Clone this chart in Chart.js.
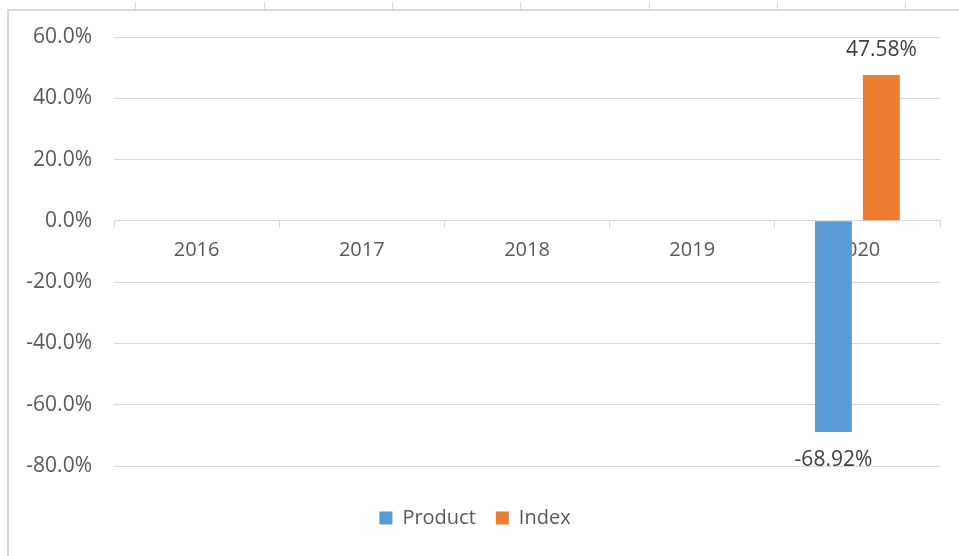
<!DOCTYPE html>
<html>
<head>
<meta charset="utf-8">
<script src="https://cdn.jsdelivr.net/npm/chart.js@4.4.0/dist/chart.umd.min.js"></script>
<style>
  html, body { margin: 0; padding: 0; background: #fff; }
  #wrap { position: relative; width: 959px; height: 556px; overflow: hidden; }
  /* frame of the excel chart object */
  #frame { position: absolute; left: 7px; top: 9px; right: -2px; bottom: -2px;
           border-left: 2px solid #d9d9d9; border-top: 2px solid #d9d9d9; }
  /* tick marks left over from the chart above */
  #topticks { position: absolute; left: 8px; top: 2px; right: 0; height: 7px;
              background: repeating-linear-gradient(to right, transparent 0, transparent 127.3px, #d9d9d9 127.3px, #d9d9d9 128.33px); }
  #box { position: absolute; left: 0; top: 0; width: 959px; height: 556px; }
</style>
</head>
<body>
<div id="wrap">
  <div id="topticks"></div>
  <div id="frame"></div>
  <div id="box"><canvas id="chart"></canvas></div>
</div>
<script>
const years = ["2016", "2017", "2018", "2019", "2020"];
const product = [null, null, null, null, -68.92];
const index = [null, null, null, null, 47.58];
const yTicks = [-80, -60, -40, -20, 0, 20, 40, 60];

const FONT = "'Open Sans', sans-serif";

// value labels above / below the bars
const valueLabels = {
  id: 'valueLabels',
  afterDatasetsDraw(chart) {
    const ctx = chart.ctx;
    chart.data.datasets.forEach((ds, i) => {
      chart.getDatasetMeta(i).data.forEach((bar, j) => {
        const v = ds.data[j];
        if (v == null) return;
        ctx.save();
        ctx.fillStyle = '#404040';
        ctx.font = "21px " + FONT;
        ctx.textAlign = 'center';
        if (v >= 0) {
          ctx.textBaseline = 'bottom';
          ctx.fillText(v.toFixed(2) + '%', bar.x, bar.y - 15);
        } else {
          ctx.textBaseline = 'top';
          ctx.fillText(v.toFixed(2) + '%', bar.x, bar.y + 17);
        }
        ctx.restore();
      });
    });
  }
};

new Chart(document.getElementById("chart"), {
  type: 'bar',
  data: {
    labels: years,
    datasets: [
      { label: 'Product', data: product, backgroundColor: '#5b9bd5',
        categoryPercentage: 0.58, barPercentage: 0.77 },
      { label: 'Index', data: index, backgroundColor: '#ed7d31',
        categoryPercentage: 0.58, barPercentage: 0.77 }
    ]
  },
  options: {
    responsive: true,
    maintainAspectRatio: false,
    animation: false,
    layout: { padding: { top: 37, right: 19, left: 10, bottom: 18 } },
    plugins: {
      tooltip: { enabled: false },
      legend: {
        position: 'bottom',
        // empty title only to push the legend further from the plot
        title: { display: true, text: ' ', font: { size: 10, lineHeight: 1 }, padding: { top: 5, bottom: 7 } },
        labels: {
          boxWidth: 13, boxHeight: 13, padding: 20,
          color: '#595959', font: { family: FONT, size: 20 }
        }
      }
    },
    scales: {
      x: {
        position: { y: 0 },
        grid: { offset: true, drawOnChartArea: false, drawTicks: true, tickLength: 7, color: '#d9d9d9' },
        border: { display: true, color: '#d9d9d9' },
        ticks: { color: '#595959', padding: 10, font: { family: FONT, size: 20 } }
      },
      y: {
        min: -80, max: 60,
        afterFit(scale) { scale.width = 104; },
        afterBuildTicks(scale) { scale.ticks = yTicks.map(v => ({ value: v })); },
        grid: { drawTicks: false, color: '#d9d9d9' },
        border: { display: false },
        ticks: {
          color: '#595959', padding: 22, font: { family: FONT, size: 21 },
          callback: v => v.toFixed(1) + '%'
        }
      }
    }
  },
  plugins: [valueLabels]
});
</script>
</body>
</html>
